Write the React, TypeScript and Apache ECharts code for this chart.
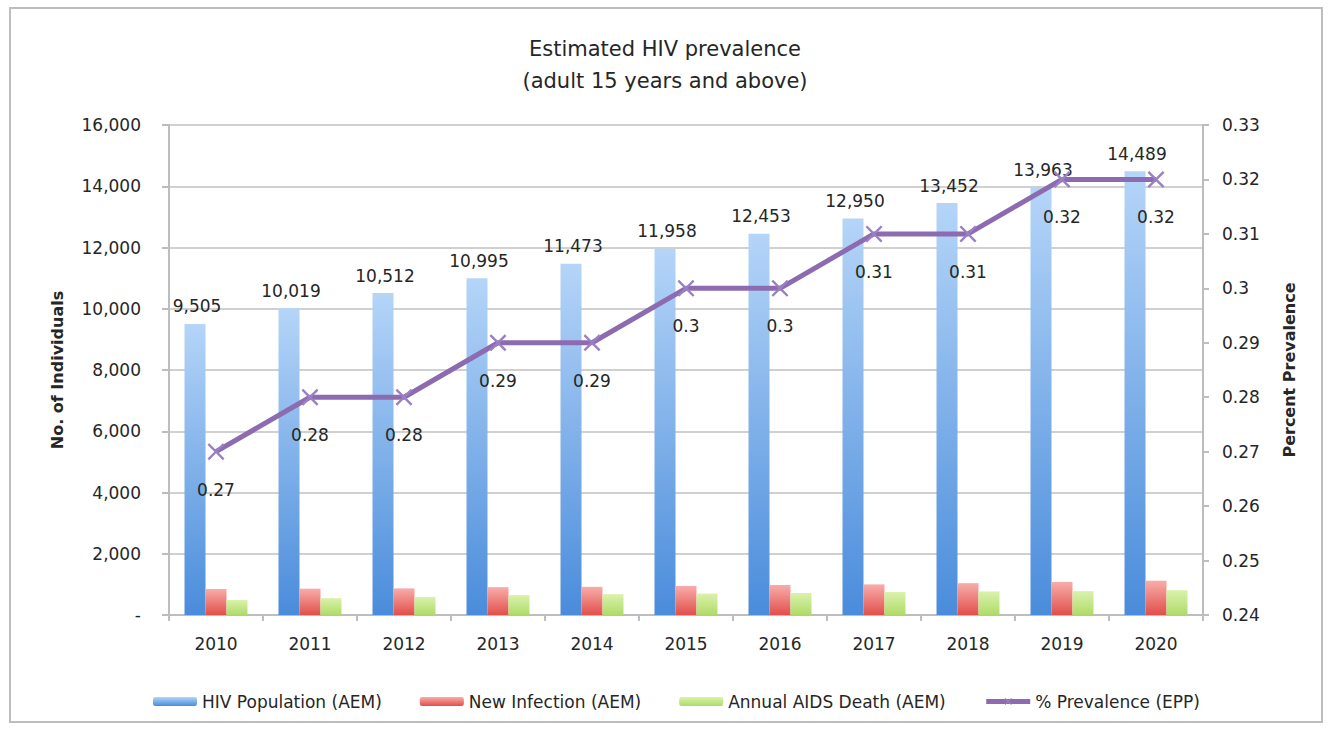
import React, { useEffect, useRef } from "react";
import * as echarts from "echarts";

const years = ["2010", "2011", "2012", "2013", "2014", "2015", "2016", "2017", "2018", "2019", "2020"];
const hivPopulation = [9505, 10019, 10512, 10995, 11473, 11958, 12453, 12950, 13452, 13963, 14489];
const newInfection = [850, 860, 870, 910, 920, 950, 980, 1000, 1040, 1080, 1120];
const aidsDeath = [490, 550, 590, 650, 680, 700, 720, 750, 770, 780, 810];
const prevalence = [0.27, 0.28, 0.28, 0.29, 0.29, 0.3, 0.3, 0.31, 0.31, 0.32, 0.32];

const FONT = "DejaVu Sans";
const TXT = "#262626";

const grad = (top: string, bottom: string) =>
  new echarts.graphic.LinearGradient(0, 0, 0, 1, [
    { offset: 0, color: top },
    { offset: 1, color: bottom },
  ]);

const crossPath =
  "path://M0,1L1,0L5,4L9,0L10,1L6,5L10,9L9,10L5,6L1,10L0,9L4,5Z";

export default function App() {
  const ref = useRef<HTMLDivElement>(null);
  useEffect(() => {
    if (!ref.current) return;
    const chart = echarts.init(ref.current, undefined, { renderer: "svg" });
    const axisLineStyle = { color: "#BDBDBD", width: 2 };
    chart.setOption({
      animation: false,
      backgroundColor: "#ffffff",
      title: {
        text: "Estimated HIV prevalence\n(adult 15 years and above)",
        left: "center",
        top: 28,
        textStyle: { fontFamily: FONT, fontSize: 21, fontWeight: "normal", color: TXT, lineHeight: 32 },
      },
      graphic: [
        {
          type: "rect",
          shape: { x: 10, y: 8, width: 1312, height: 714 },
          style: { fill: "none", stroke: "#BDBDBD", lineWidth: 2 },
          silent: true,
        },
      ],
      legend: {
        top: 688,
        left: 148,
        itemWidth: 44,
        itemHeight: 9,
        itemGap: 38,
        lineStyle: { width: 5 },
        textStyle: { fontFamily: FONT, fontSize: 17, color: TXT },
        data: ["HIV Population (AEM)", "New Infection (AEM)", "Annual AIDS Death (AEM)", "% Prevalence (EPP)"],
      },
      grid: { left: 169, right: 127, top: 125, bottom: 116 },
      xAxis: {
        type: "category",
        data: years,
        axisLine: { lineStyle: axisLineStyle },
        axisTick: { show: true, length: 6, lineStyle: axisLineStyle },
        axisLabel: { margin: 20, fontFamily: FONT, fontSize: 17, color: TXT },
      },
      yAxis: [
        {
          type: "value",
          min: 0,
          max: 16000,
          interval: 2000,
          name: "No. of Individuals",
          nameLocation: "middle",
          nameGap: 104,
          nameTextStyle: { fontFamily: FONT, fontSize: 16, fontWeight: "bold", color: TXT },
          axisLine: { show: true, lineStyle: axisLineStyle },
          axisTick: { show: true, length: 7, lineStyle: axisLineStyle },
          splitLine: { lineStyle: { color: "#D0D0D0", width: 2 } },
          axisLabel: {
            margin: 28,
            fontFamily: FONT,
            fontSize: 17,
            color: TXT,
            formatter: (v: number) => (v === 0 ? "-" : v.toLocaleString("en-US")),
          },
        },
        {
          type: "value",
          position: "right",
          min: 0.24,
          max: 0.33,
          interval: 0.01,
          name: "Percent Prevalence",
          nameLocation: "middle",
          nameGap: 78,
          nameTextStyle: { fontFamily: FONT, fontSize: 16, fontWeight: "bold", color: TXT },
          axisLine: { show: true, lineStyle: axisLineStyle },
          axisTick: { show: true, length: 6, lineStyle: axisLineStyle },
          splitLine: { show: false },
          axisLabel: {
            margin: 19,
            fontFamily: FONT,
            fontSize: 17,
            color: TXT,
            formatter: (v: number) => String(+v.toFixed(2)),
          },
        },
      ],
      series: [
        {
          name: "HIV Population (AEM)",
          type: "bar",
          data: hivPopulation,
          barGap: "0%",
          barCategoryGap: "33%",
          itemStyle: { color: grad("#B5D5F8", "#4A8CDB") },
          label: {
            show: true,
            position: "top",
            distance: 9,
            offset: [2, 0],
            fontFamily: FONT,
            fontSize: 17,
            color: TXT,
            formatter: (p: any) => Number(p.value).toLocaleString("en-US"),
          },
        },
        {
          name: "New Infection (AEM)",
          type: "bar",
          data: newInfection,
          itemStyle: { color: grad("#F8ADAA", "#E14F4B") },
        },
        {
          name: "Annual AIDS Death (AEM)",
          type: "bar",
          data: aidsDeath,
          itemStyle: { color: grad("#DAF2AB", "#AFDB68") },
        },
        {
          name: "% Prevalence (EPP)",
          type: "line",
          yAxisIndex: 1,
          data: prevalence,
          z: 5,
          symbol: crossPath,
          symbolSize: 17,
          color: "#8C6BB1",
          lineStyle: { color: "#8C6BB1", width: 5 },
          itemStyle: { color: "#9A80C2" },
          label: {
            show: true,
            position: "bottom",
            distance: 21,
            fontFamily: FONT,
            fontSize: 17,
            color: TXT,
            formatter: (p: any) => String(+Number(p.value).toFixed(2)),
          },
        },
      ],
    });
    return () => chart.dispose();
  }, []);
  return (
    <div
      ref={ref}
      style={{ position: "absolute", left: 0, top: 0, width: 1330, height: 731 }}
    />
  );
}
